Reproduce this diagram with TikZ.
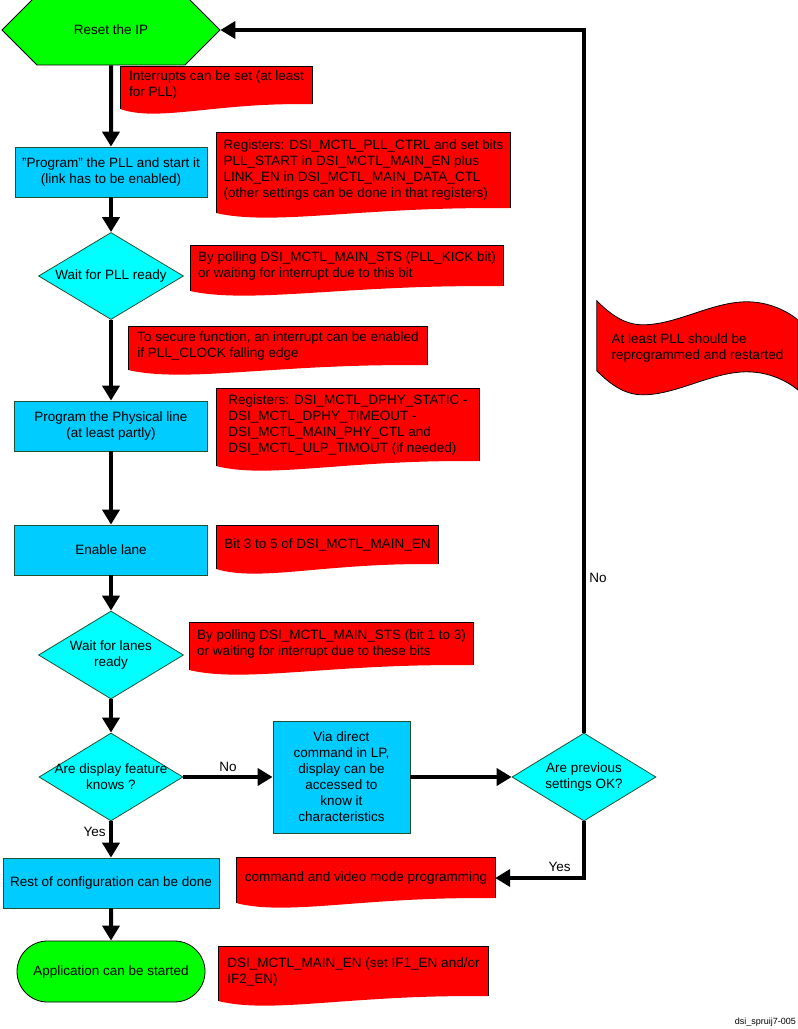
\documentclass[tikz,border=0pt]{standalone}
\usepackage{fontspec}
\setmainfont{Liberation Sans}
\usetikzlibrary{arrows.meta,calc,backgrounds,shapes.geometric,shapes.misc}

\definecolor{startgreen}{RGB}{0,255,0}
\definecolor{boxblue}{RGB}{0,204,255}
\definecolor{decisioncyan}{RGB}{0,255,255}
\definecolor{notered}{RGB}{255,0,0}
\definecolor{edgegreen}{RGB}{30,80,50}

\begin{document}
\begin{tikzpicture}[
      x=1pt, y=-1pt,
      font=\fontsize{13.5}{16}\selectfont,
      startstop/.style={draw=black, line width=0.8pt, fill=startgreen, align=center, inner sep=0pt},
      box/.style={draw=edgegreen, line width=0.8pt, fill=boxblue, align=center, minimum width=193pt, minimum height=50pt, inner sep=2pt},
      decision/.style={draw=edgegreen, line width=0.8pt, diamond, fill=decisioncyan, minimum width=145pt, minimum height=88pt, inner sep=0pt},
      dtext/.style={align=center, inner sep=0pt},
      note/.style={align=left, inner sep=2pt},
      arrow/.style={-{Triangle[length=15pt, width=17pt]}, line width=4pt}
    ]
      \useasboundingbox (0,0) rectangle (798,1029);

      % main column
      \node[startstop, chamfered rectangle, chamfered rectangle xsep=41pt, chamfered rectangle ysep=30pt, minimum width=218pt, minimum height=60pt] (reset) at (111,30) {Reset the IP};
      \node[box, minimum width=192pt] (pllbox) at (111,172) {"Program" the PLL and start it\\(link has to be enabled)};
      \node[decision, minimum height=87pt, label={[dtext]center:Wait for PLL ready}] (pllwait) at (111,276) {};
      \node[box] (phybox) at (111,426) {Program the Physical line\\(at least partly)};
      \node[box] (lanebox) at (111,550) {Enable lane};
      \node[decision, label={[dtext]center:Wait for lanes\\ready}] (lanewait) at (111,655) {};
      \node[decision, minimum width=144pt, label={[dtext]center:Are display feature\\knows ?}] (dispq) at (111,777) {};
      \node[box, minimum width=216pt] (restbox) at (111,883) {Rest of configuration can be done};
      \node[startstop, rounded rectangle, minimum width=188pt, minimum height=61pt] (appterm) at (111,971.5) {Application can be started};

      % side branch
      \node[box, minimum width=137pt, minimum height=112pt] (lpbox) at (341.5,777) {Via direct\\command in LP,\\display can be\\accessed to\\know it\\characteristics};
      \node[decision, minimum width=144pt, label={[dtext]center:Are previous\\settings OK?}] (prevq) at (584,777) {};

      % notes
      \node[note, minimum width=191pt, minimum height=37pt] (intr) at (216.5,85.5) {Interrupts can be set (at least\\for PLL)};
      \node[note, minimum width=293pt, minimum height=75pt] (pllreg) at (363.5,170.5) {Registers: DSI\_MCTL\_PLL\_CTRL and set bits\\PLL\_START in DSI\_MCTL\_MAIN\_EN plus\\LINK\_EN in DSI\_MCTL\_MAIN\_DATA\_CTL\\(other settings can be done in that registers)};
      \node[note, minimum width=312pt, minimum height=40pt] (pllsts) at (347,266) {By polling DSI\_MCTL\_MAIN\_STS (PLL\_KICK bit)\\or waiting for interrupt due to this bit};
      \node[note, minimum width=298pt, minimum height=38pt] (secure) at (278,346) {To secure function, an interrupt can be enabled\\if PLL\_CLOCK falling edge};
      \node[note, minimum width=262pt, minimum height=72pt] (phyreg) at (348,425) {Registers: DSI\_MCTL\_DPHY\_STATIC -\\DSI\_MCTL\_DPHY\_TIMEOUT -\\DSI\_MCTL\_MAIN\_PHY\_CTL and\\DSI\_MCTL\_ULP\_TIMOUT (if needed)};
      \node[note, minimum width=221pt, minimum height=38pt] (lanebits) at (327.5,545) {Bit 3 to 5 of DSI\_MCTL\_MAIN\_EN};
      \node[note, minimum width=283pt, minimum height=42pt] (lanests) at (331.5,644) {By polling DSI\_MCTL\_MAIN\_STS (bit 1 to 3)\\or waiting for interrupt due to these bits};
      \node[note, minimum width=258pt, minimum height=40pt] (modeprog) at (366,878) {command and video mode programming};
      \node[note, minimum width=269pt, minimum height=49pt] (mainen) at (353.5,971.5) {DSI\_MCTL\_MAIN\_EN (set IF1\_EN and/or\\IF2\_EN)};
      \node[note, minimum width=201pt, minimum height=94pt] (reprog) at (697.5,348) {At least PLL should be\\reprogrammed and restarted};

      \node[font=\fontsize{9}{10}\selectfont, anchor=south east, inner sep=0pt] (figid) at (796,1027) {dsi\_spruij7-005};

      % red note shapes
      \begin{scope}[on background layer]
        \foreach \nd in {intr,pllreg,pllsts,secure,phyreg,lanebits,lanests,modeprog,mainen}{
          \fill[notered] let \p1=(\nd.south west), \p2=(\nd.south east), \n1={\x2-\x1} in
            (\nd.north west) -- (\nd.north east) -- (\p2)
            .. controls (\x1+0.5*\n1, \y1+2pt) and (\x1+0.2*\n1, \y1-18pt) .. (\x1, \y1-5pt) -- cycle;
          \draw[line width=0.8pt] ($(\nd.south west)+(0,5)$) -- (\nd.north west) -- (\nd.north east) -- (\nd.south east);
        }
        \begin{scope}[shift={(reprog.north west)}]
          \filldraw[fill=notered, line width=0.8pt] (0,0) .. controls (14,14) and (28,24) .. (46,24)
            .. controls (80,24) and (115,1) .. (150,1) .. controls (172,1) and (190,10) .. (201,19)
            -- (201,89) .. controls (190,80) and (172,71) .. (150,71)
            .. controls (115,71) and (80,94) .. (46,94) .. controls (28,94) and (14,84) .. (0,70) -- cycle;
        \end{scope}
      \end{scope}

      \draw[arrow] (reset) -- (pllbox);
      \draw[arrow] (pllbox) -- (pllwait);
      \draw[arrow] (pllwait) -- (phybox);
      \draw[arrow] (phybox) -- (lanebox);
      \draw[arrow] (lanebox) -- (lanewait);
      \draw[arrow] (lanewait) -- (dispq);
      \draw[arrow] (dispq) -- node[left, pos=0.3]{Yes} (restbox);
      \draw[arrow] (restbox) -- (appterm);
      \draw[arrow] (dispq) -- node[above]{No} (lpbox);
      \draw[arrow] (lpbox) -- (prevq);
      \draw[arrow] (prevq.north) |- node[pos=0.11, right]{No} (reset.east);
      \draw[arrow] (prevq.south) |- node[pos=0.4, left=8pt]{Yes} (modeprog.east);
    \end{tikzpicture}
\end{document}
